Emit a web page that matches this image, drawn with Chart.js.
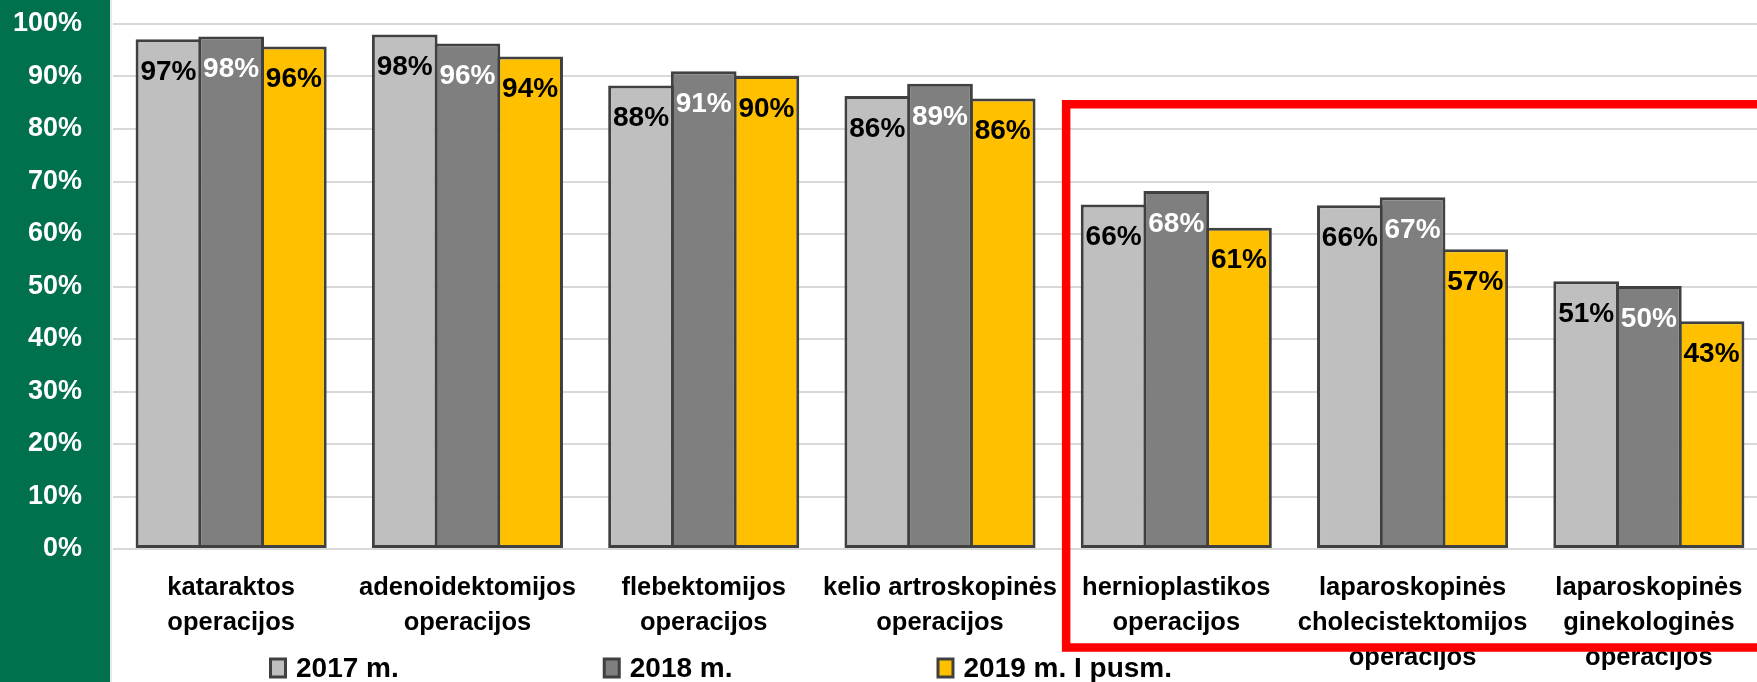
<!DOCTYPE html>
<html>
<head>
<meta charset="utf-8">
<script src="https://cdn.jsdelivr.net/npm/chart.js@4.4.1/dist/chart.umd.min.js"></script>
<style>
  html, body { margin: 0; padding: 0; background: #ffffff; overflow: hidden; }
  canvas { display: block; }
</style>
</head>
<body>
<canvas id="c" width="1767" height="682"></canvas>
<script>
// ---- data ----
const categories = [
  ['kataraktos', 'operacijos'],
  ['adenoidektomijos', 'operacijos'],
  ['flebektomijos', 'operacijos'],
  ['kelio artroskopinės', 'operacijos'],
  ['hernioplastikos', 'operacijos'],
  ['laparoskopinės', 'cholecistektomijos', 'operacijos'],
  ['laparoskopinės', 'ginekologinės', 'operacijos']
];
const seriesNames = ['2017 m.', '2018 m.', '2019 m. I pusm.'];
const values2017 = [97.1, 98.0, 88.3, 86.3, 65.6, 65.5, 51.0];
const values2018 = [97.6, 96.3, 91.0, 88.6, 68.2, 67.0, 50.1];
const values2019 = [95.7, 93.8, 90.1, 85.8, 61.2, 57.1, 43.4];
const yTicks = [0, 10, 20, 30, 40, 50, 60, 70, 80, 90, 100];

// ---- styles ----
const FONT = '"Liberation Sans", Arial, sans-serif';
const fills = ['#BFBFBF', '#7F7F7F', '#FFC000'];
const labelColors = ['#000000', '#FFFFFF', '#000000'];
const BORDER = '#404040';

const greenPanel = {
  id: 'greenPanel',
  beforeDraw(chart) {
    const ctx = chart.ctx;
    ctx.save();
    ctx.fillStyle = '#00704F';
    ctx.fillRect(0, 0, 110, chart.height);
    ctx.fillStyle = '#E4ECE8';
    ctx.fillRect(110, 0, 2, chart.height);
    ctx.restore();
  }
};

const barLabels = {
  id: 'barLabels',
  afterDatasetsDraw(chart) {
    const ctx = chart.ctx;
    ctx.save();
    ctx.font = 'bold 28px ' + FONT;
    ctx.textAlign = 'center';
    ctx.textBaseline = 'middle';
    chart.data.datasets.forEach((ds, i) => {
      const meta = chart.getDatasetMeta(i);
      ctx.fillStyle = labelColors[i];
      meta.data.forEach((el, j) => {
        const txt = Math.round(ds.data[j]) + '%';
        ctx.fillText(txt, el.x, el.y + 33);
      });
    });
    ctx.restore();
  }
};

const customLegend = {
  id: 'customLegend',
  afterDraw(chart, args, opts) {
    const ctx = chart.ctx;
    ctx.save();
    ctx.font = 'bold 28px ' + FONT;
    ctx.textBaseline = 'middle';
    ctx.textAlign = 'left';
    let x = opts.x;
    const y = opts.y;
    chart.data.datasets.forEach((ds, i) => {
      ctx.fillStyle = ds.backgroundColor;
      ctx.strokeStyle = BORDER;
      ctx.lineWidth = 3;
      ctx.beginPath();
      ctx.rect(x + 1.5, y - 9, 15, 18);
      ctx.fill();
      ctx.stroke();
      const tx = x + 27;
      ctx.fillStyle = '#000';
      ctx.fillText(ds.label, tx, y + 1);
      x = tx + ctx.measureText(ds.label).width + opts.gap;
    });
    ctx.restore();
  }
};

const redFrame = {
  id: 'redFrame',
  afterDraw(chart) {
    const ctx = chart.ctx;
    const xs = chart.scales.x;
    const ys = chart.scales.y;
    const left = (xs.getPixelForValue(3) + xs.getPixelForValue(4)) / 2 + 8;
    const top = ys.getPixelForValue(84.7);
    const bottom = ys.getPixelForValue(0) + 98.5;
    ctx.save();
    ctx.strokeStyle = '#FF0000';
    ctx.lineWidth = 8.5;
    ctx.beginPath();
    ctx.moveTo(chart.width + 20, top);
    ctx.lineTo(left, top);
    ctx.lineTo(left, bottom);
    ctx.lineTo(chart.width + 20, bottom);
    ctx.stroke();
    ctx.restore();
  }
};

const mkDs = (label, data, i) => ({
  label: label,
  data: data,
  backgroundColor: fills[i],
  borderColor: BORDER,
  borderWidth: 3,
  borderSkipped: false,
  categoryPercentage: 0.796,
  barPercentage: 1.048
});

new Chart(document.getElementById('c'), {
  type: 'bar',
  data: {
    labels: categories,
    datasets: [
      mkDs(seriesNames[0], values2017, 0),
      mkDs(seriesNames[1], values2018, 1),
      mkDs(seriesNames[2], values2019, 2)
    ]
  },
  options: {
    responsive: false,
    animation: false,
    devicePixelRatio: 1,
    layout: { padding: { top: 24, left: 0, right: 0, bottom: 0 } },
    plugins: {
      legend: { display: false },
      tooltip: { enabled: false },
      customLegend: { x: 269, y: 668, gap: 204 }
    },
    scales: {
      x: {
        grid: { display: false, drawTicks: false },
        border: { display: false },
        ticks: {
          autoSkip: false,
          maxRotation: 0,
          minRotation: 0,
          padding: 22,
          color: '#000',
          font: { family: FONT, weight: 'bold', size: 25.5, lineHeight: 1.37 }
        },
        afterFit(scale) {
          scale.height = 133;
          scale.paddingLeft = 0; scale.paddingRight = 0;
        }
      },
      y: {
        min: 0,
        max: 100,
        afterBuildTicks(scale) { scale.ticks = yTicks.map(v => ({ value: v })); },
        grid: { color: '#D9D9D9', lineWidth: 2, drawTicks: false },
        border: { display: false },
        ticks: {
          padding: 31,
          color: '#FFFFFF',
          font: { family: FONT, weight: 'bold', size: 27 },
          callback: v => v + '%'
        },
        afterFit(scale) {
          scale.width = 113;
          scale.paddingTop = 0; scale.paddingBottom = 0;
        }
      }
    }
  },
  plugins: [greenPanel, barLabels, customLegend, redFrame]
});
</script>
</body>
</html>
